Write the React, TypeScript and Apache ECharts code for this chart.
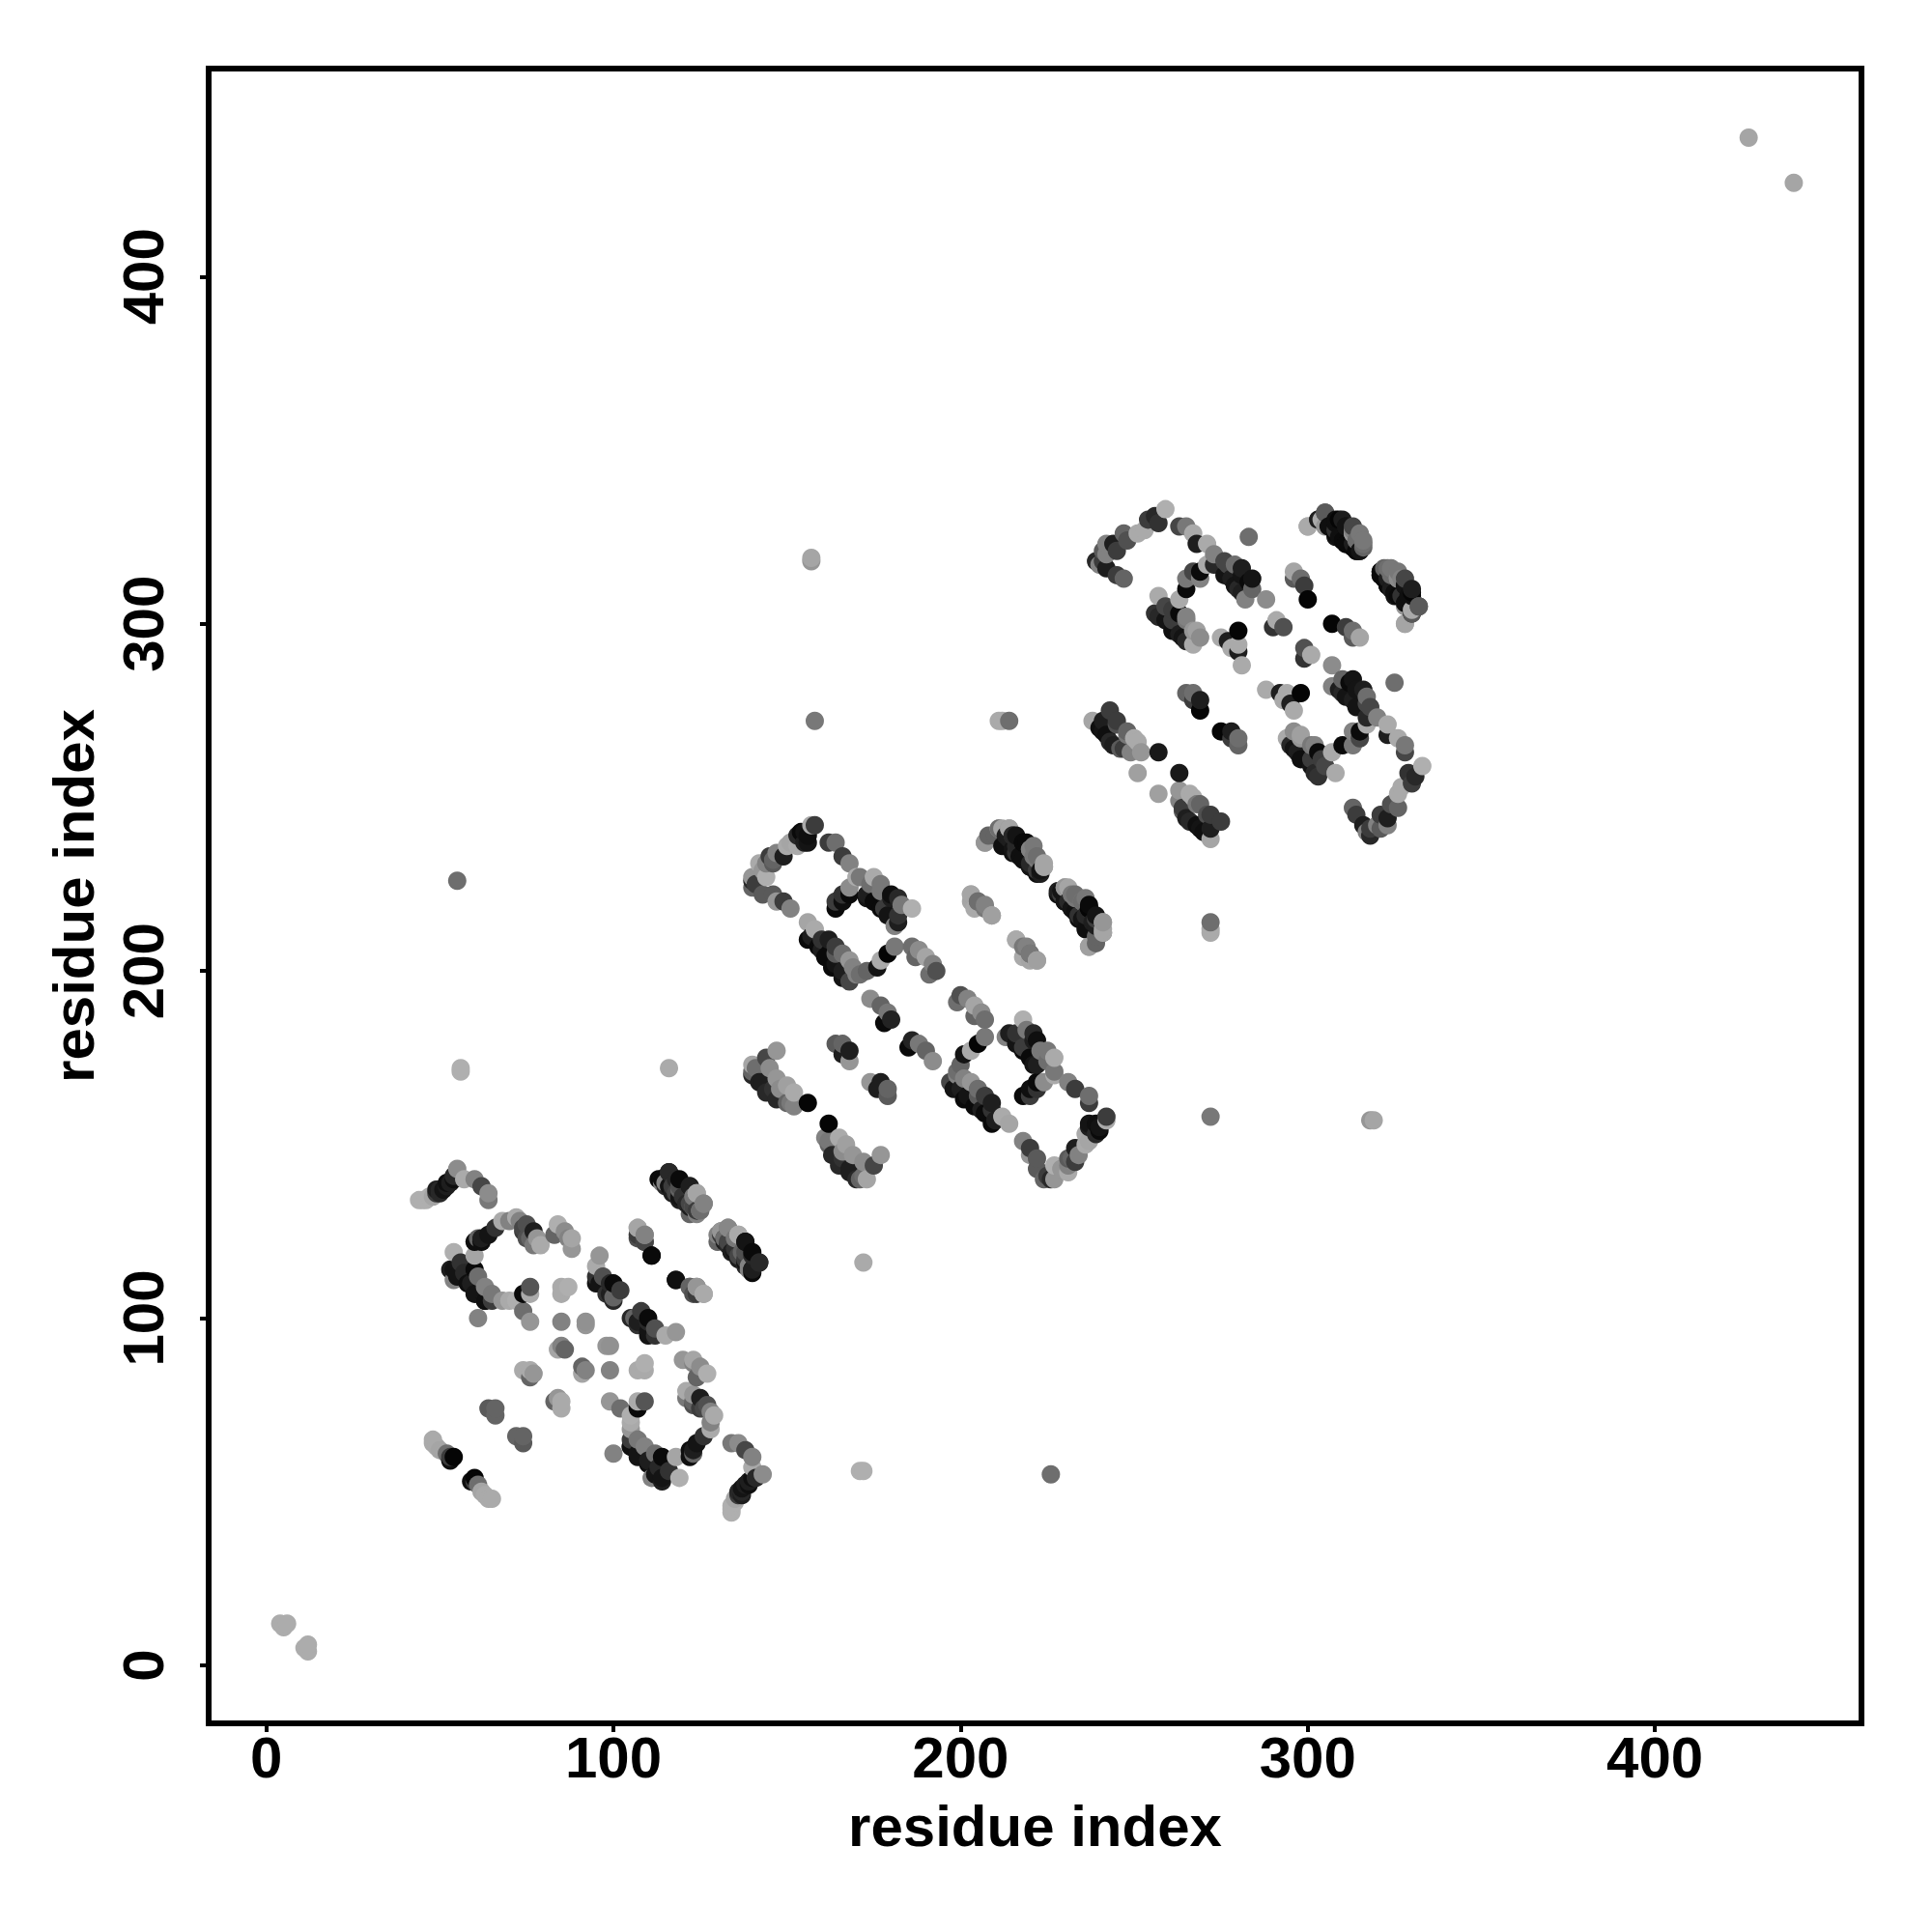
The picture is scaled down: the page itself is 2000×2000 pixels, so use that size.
import React, { useEffect, useRef } from "react";
import * as echarts from "echarts";

type Contact = [number, number, number];

const axisName = "residue index";
const tickValues = [0, 100, 200, 300, 400];

const ends: Contact[] = [[4,12,172],[6,12,172],[5,11,172],[427,440,165]];
const lone: Contact[] = [[55,226,110],[56,172,175],[56,171,175],[116,172,170],[157,319,165],[157,318,150],[158,272,120],[211,272,170],[212,272,170],[214,272,110],[283,325,110],[61,100,130]];
const stripA: Contact[] = [[44,134,175],[45,134,175],[46,134,175],[47,135,175],[48,135,165],[49,136,60],[49,137,30],[50,137,40],[50,136,40],[51,137,20],[52,138,30],[52,139,15],[53,139,30],[54,141,40],[54,140,15],[55,143,140],[57,140,170],[60,140,130],[62,138,70],[64,134,120],[64,136,140]];
const stripB: Contact[] = [[60,122,15],[61,123,100],[62,122,15],[62,123,30],[64,124,20],[66,126,50],[68,128,170],[70,128,130],[72,129,170],[73,128,130],[74,125,60],[74,126,70],[75,127,80],[75,123,80],[76,123,100],[77,125,30],[77,121,120],[78,123,150],[79,121,170]];
const stripC: Contact[] = [[83,124,100],[84,127,175],[86,125,140],[87,123,130],[88,120,150],[88,123,165]];
const stripD: Contact[] = [[53,114,30],[54,119,175],[54,114,20],[54,111,130],[55,112,20],[56,116,50],[57,113,40],[58,110,15],[59,110,30],[60,114,10],[60,118,165],[60,107,20],[61,107,20],[61,112,110],[63,105,40],[63,105,15],[63,109,130],[65,107,120],[65,105,60],[68,105,150],[70,105,170],[72,105,175],[74,107,10],[74,102,110],[76,109,85],[76,107,170],[76,99,150]];
const centre: Contact[] = [[85,109,170],[87,109,175],[85,107,170],[85,99,130],[92,98,150],[92,99,145],[84,91,165],[86,91,100],[85,92,130],[74,85,170],[76,85,170],[76,83,100],[77,84,150],[64,74,90],[66,74,100],[66,72,100]];
const stripE: Contact[] = [[95,115,170],[95,110,20],[95,112,50],[96,118,150],[96,110,20],[97,112,80],[98,107,50],[99,110,40],[99,107,30],[100,110,10],[100,106,100],[100,105,40],[102,108,60],[107,126,170],[107,123,80],[109,124,150],[109,122,100],[111,118,15]];
const stripF: Contact[] = [[118,111,10],[122,109,70],[124,107,60],[124,109,130],[126,107,165]];
const stripG: Contact[] = [[113,140,10],[114,140,30],[114,139,130],[115,138,40],[116,142,40],[117,136,30],[118,140,40],[118,136,70],[119,138,80],[119,134,30],[120,135,50],[122,138,20],[122,133,70],[122,130,100],[123,132,110],[124,136,170],[124,130,130],[125,131,150],[126,133,135]];
const stripH: Contact[] = [[131,125,110],[131,124,60],[132,122,30],[132,123,70],[133,126,130],[133,121,40],[135,123,120],[135,119,20],[136,124,165],[137,119,100],[138,122,30],[138,117,60],[138,116,20],[139,115,130],[140,119,10],[140,114,10],[142,116,40]];
const stripI: Contact[] = [[48,65,170],[48,64,170],[49,63,170],[50,62,165],[52,61,110],[53,60,60],[53,59,15],[54,60,5]];
const ringJ: Contact[] = [[140,226,40],[140,227,150],[140,224,100],[141,225,60],[142,231,170],[143,222,90],[143,229,150],[144,227,175],[144,231,130],[145,233,60],[146,231,90],[146,222,90],[146,232,100],[147,220,150],[147,234,130],[149,233,30],[149,220,60],[150,236,170],[151,237,165],[151,218,130],[153,236,170],[153,239,40],[154,240,10],[155,237,30],[155,240,20],[156,239,15],[156,237,20],[157,242,170],[158,242,60],[162,237,60],[164,237,110],[166,233,60],[168,231,130]];
const stripK: Contact[] = [[164,218,10],[164,220,60],[166,220,15],[166,222,50],[168,222,10],[168,224,140],[170,227,170],[171,227,120]];
const stripL: Contact[] = [[173,222,30],[173,221,20],[174,225,110],[175,227,170],[175,220,30],[175,220,10],[177,223,120],[177,225,120],[177,218,10],[178,218,60],[179,216,20],[180,221,30],[180,222,15],[181,213,130],[182,216,50],[182,214,30],[182,221,40],[183,219,120],[186,218,175]];
const stripM: Contact[] = [[156,214,165],[156,209,10],[157,210,30],[158,212,170],[159,207,10],[160,209,50],[160,206,30],[161,204,10],[162,209,30],[162,205,10],[163,201,10],[164,207,60],[164,202,20],[164,205,90],[166,205,110],[166,200,30],[166,198,20],[168,203,150],[168,197,70],[169,201,130],[170,199,130],[171,199,110],[173,200,100],[176,201,20],[177,203,170],[179,205,5],[181,207,120]];
const stripN: Contact[] = [[186,207,110],[187,204,100],[188,206,140],[190,204,165],[191,199,110],[192,202,130],[193,200,80]];
const stripO: Contact[] = [[174,192,140],[177,190,100],[178,185,10],[179,188,120],[180,186,35]];
const stripQ: Contact[] = [[164,179,90],[166,179,100],[166,176,30],[168,177,30],[168,174,150]];
const stripS: Contact[] = [[140,173,165],[140,171,100],[140,170,40],[141,172,110],[142,168,30],[143,168,30],[144,175,70],[144,165,40],[145,172,140],[146,166,50],[147,177,150],[147,169,150],[147,163,40],[148,166,140],[150,167,160],[150,162,100],[151,162,120],[152,165,170],[152,161,130],[156,162,5]];
const stripU: Contact[] = [[207,237,160],[208,239,100],[211,241,165],[213,239,30],[214,241,150],[214,238,30],[215,239,60],[215,235,20],[216,236,40],[217,233,15],[218,237,5],[218,232,20],[220,235,110],[220,231,40],[221,233,120],[221,236,120],[222,228,15],[223,229,20],[224,231,165],[224,230,150]];
const stripV: Contact[] = [[228,223,30],[229,222,60],[230,224,165],[230,220,30],[230,220,20],[232,222,120],[232,218,15],[233,222,110],[234,216,50],[234,215,15],[235,220,130],[236,212,15],[237,218,10],[237,219,10],[237,207,150],[239,215,40],[239,216,20],[239,210,100],[241,214,165],[241,212,165],[241,211,110]];
const stripW: Contact[] = [[203,222,160],[203,220,165],[205,220,120],[207,219,130],[209,216,170]];
const stripX: Contact[] = [[216,209,160],[218,207,120],[218,204,170],[220,205,110],[222,203,165]];
const ringAA: Contact[] = [[239,318,40],[240,317,130],[241,321,90],[241,318,60],[242,316,30],[242,320,130],[242,323,130],[244,323,30],[245,321,60],[245,314,60],[247,326,100],[247,313,100],[248,324,80],[251,326,170],[253,327,170],[254,330,60],[256,331,40],[257,329,50],[259,333,175],[263,328,70],[265,328,120],[267,326,170],[268,323,30],[271,323,170],[273,320,130]];
const stripBB: Contact[] = [[273,317,40],[276,318,70],[276,314,20],[277,317,70],[278,313,30],[279,317,110],[279,311,20],[280,310,40],[281,314,20],[281,316,30],[281,309,30],[282,307,130],[283,312,10],[284,310,100],[284,313,20]];
const innerAA: Contact[] = [[257,308,170],[263,307,170],[265,310,10],[265,313,120],[267,315,70],[269,315,10],[269,313,130],[271,317,170]];
const stripCC: Contact[] = [[256,303,50],[257,302,40],[259,305,70],[259,301,20],[261,301,60],[261,298,15],[261,304,60],[263,303,10],[263,297,30],[264,296,20],[265,301,120],[265,295,40],[265,302,130],[267,298,150],[267,294,170],[268,298,160],[269,296,140]];
const stripDD: Contact[] = [[275,296,170],[277,295,30],[278,293,170],[280,298,5],[280,294,170],[280,292,30],[281,288,170]];
const stripEE: Contact[] = [[288,307,140],[290,299,50],[291,301,170],[293,299,80]];
const stripFF: Contact[] = [[296,315,165],[296,313,90],[298,313,110],[299,311,60],[300,307,5]];
const stripGG: Contact[] = [[300,328,165],[303,330,90],[304,330,170],[305,332,90],[308,329,15],[308,330,15],[308,327,50],[309,325,15],[310,324,30],[311,328,20],[311,323,10],[313,326,140],[313,328,70],[313,323,30],[313,322,10],[314,321,10],[315,326,120],[315,321,10],[316,323,110]];
const stripII: Contact[] = [[321,314,10],[321,315,20],[322,316,100],[322,313,10],[323,311,10],[324,314,110],[324,310,10],[324,316,120],[325,308,20],[326,313,150],[326,308,10],[327,313,130],[328,311,20],[328,306,15],[328,300,170],[328,305,150],[330,303,30],[330,309,5],[330,310,30],[332,305,90]];
const stripJJ: Contact[] = [[265,280,100],[267,280,110],[267,278,60],[269,278,30],[269,275,5]];
const stripLL: Contact[] = [[238,272,165],[240,270,15],[241,272,30],[241,269,20],[242,268,15],[243,275,60],[243,266,40],[244,265,30],[245,271,80],[245,272,60],[246,264,90],[247,264,60],[248,268,120],[248,269,100],[249,263,130],[250,267,170],[251,266,170],[252,263,150],[251,257,160],[257,263,25]];

const upperTriangle: Contact[] = [
  ...ends, ...lone, ...stripA, ...stripB, ...stripC, ...stripD, ...centre, ...stripE, ...stripF,
  ...stripG, ...stripH, ...stripI, ...ringJ, ...stripK, ...stripL, ...stripM, ...stripN, ...stripO,
  ...stripQ, ...stripS, ...stripU, ...stripV, ...stripW, ...stripX, ...ringAA, ...stripBB, ...innerAA,
  ...stripCC, ...stripDD, ...stripEE, ...stripFF, ...stripGG, ...stripII, ...stripJJ, ...stripLL,
];

// A contact map is symmetric: every contact (i, j) also appears as (j, i).
const contacts: Contact[] = [
  ...upperTriangle,
  ...upperTriangle.map(([i, j, g]) => [j, i, g] as Contact),
].sort((a, b) => a[0] - b[0] || a[1] - b[1]);

const labelFont = { fontFamily: "Liberation Sans", fontWeight: "bold" as const, fontSize: 60, color: "#000" };

export default function App() {
  const ref = useRef<HTMLDivElement>(null);
  useEffect(() => {
    document.body.style.margin = "0";
    const chart = echarts.init(ref.current!, undefined, { renderer: "svg" });
    chart.setOption({
      animation: false,
      backgroundColor: "#fff",
      grid: { left: 216, top: 71, width: 1711, height: 1713, show: true, borderColor: "#000", borderWidth: 6, backgroundColor: "transparent" },
      xAxis: {
        type: "value", min: -16.6, max: 459.5,
        name: axisName, nameLocation: "center", nameGap: 76,
        nameTextStyle: labelFont,
        splitLine: { show: false }, axisLine: { show: false, onZero: false },
        axisTick: { show: true, length: 9, lineStyle: { width: 4, color: "#000" }, customValues: tickValues },
        axisLabel: { ...labelFont, margin: 5, customValues: tickValues, showMinLabel: true },
      },
      yAxis: {
        type: "value", min: -16.7, max: 459.9,
        name: axisName, nameLocation: "center", nameGap: 110, nameRotate: 90,
        nameTextStyle: labelFont,
        splitLine: { show: false }, axisLine: { show: false, onZero: false },
        axisTick: { show: true, length: 9, lineStyle: { width: 4, color: "#000" }, customValues: tickValues },
        axisLabel: { ...labelFont, rotate: 90, margin: 68, customValues: tickValues, align: "center", verticalAlign: "middle" },
      },
      series: [{
        type: "scatter",
        symbol: "circle",
        symbolSize: 19,
        silent: true,
        data: contacts,
        encode: { x: 0, y: 1 },
        itemStyle: {
          opacity: 1,
          color: (p: any) => { const g = p.data[2]; return `rgb(${g},${g},${g})`; },
        },
      }],
    });
    return () => chart.dispose();
  }, []);
  return <div ref={ref} style={{ position: "absolute", left: 0, top: 0, width: 2000, height: 2000 }} />;
}
